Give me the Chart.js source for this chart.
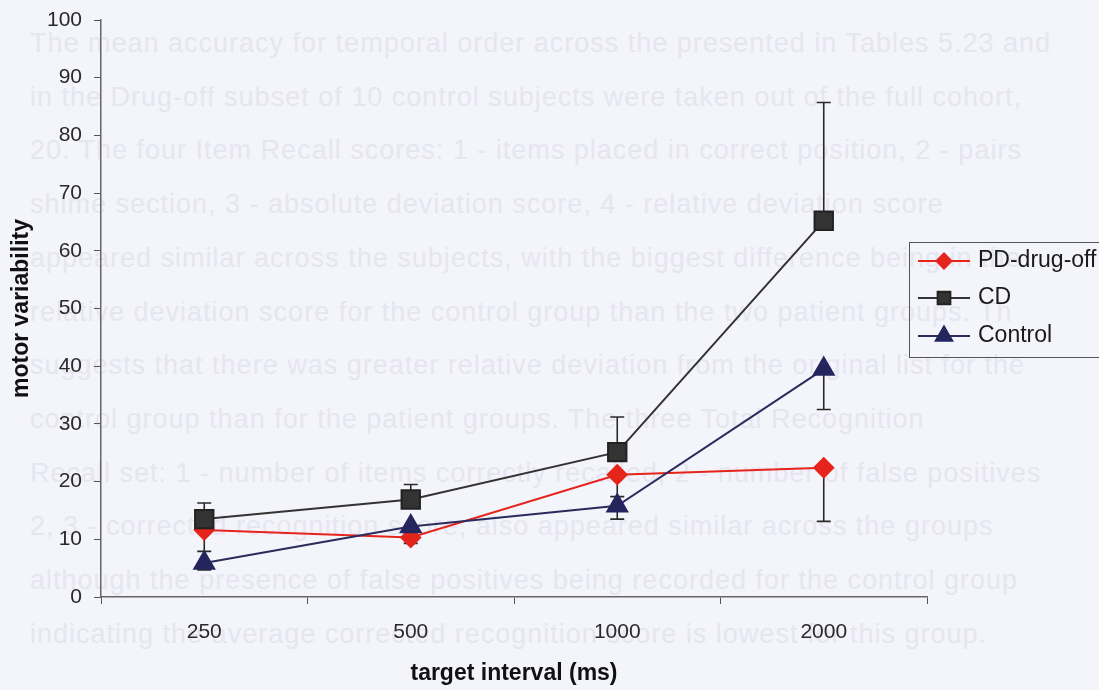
<!DOCTYPE html>
<html lang="en">
<head>
    <title>Motor variability</title>
    <meta charset="UTF-8">
    <script src="https://cdn.jsdelivr.net/npm/chart.js@4/dist/chart.umd.min.js"></script>
    <style>
        body {margin:0;padding:0;background:#f4f4fb;font-family:"Liberation Sans",Arial,sans-serif;}
        #wrap {position:relative;width:1099px;height:690px;overflow:hidden;}
        #bleed {position:absolute;left:0;top:0;width:1099px;height:690px;color:#e6e6f1;font-size:27px;letter-spacing:1px;}
        #bleed div {position:absolute;left:30px;white-space:nowrap;}
        canvas {position:absolute;left:0;top:0;}
    </style>
</head>
<body>
<div id="wrap">
    <div id="bleed"></div>
    <canvas id="motorChart" width="1099" height="690"></canvas>
</div>
<script>
    const categories = ['250', '500', '1000', '2000'];
    const pdDrugOff = [11.6, 10.3, 21.2, 22.4];
    const pdErrMinus = [3.7, 1.0, 3.8, 9.3];
    const cdValues = [13.5, 16.9, 25.1, 65.2];
    const cdErrPlus = [2.8, 2.6, 6.1, 20.5];
    const controlValues = [5.9, 12.2, 15.8, 39.5];
    const controlErrMinus = [1.2, 1.2, 2.3, 7.0];

    // faint text showing through from the scanned page
    const bleedLines = [
        'The mean accuracy for temporal order across the presented in Tables 5.23 and',
        'in the Drug-off subset of 10 control subjects were taken out of the full cohort,',
        '20. The four Item Recall scores: 1 - items placed in correct position, 2 - pairs',
        'shime section, 3 - absolute deviation score, 4 - relative deviation score',
        'appeared similar across the subjects, with the biggest difference being in the',
        'relative deviation score for the control group than the two patient groups. Th',
        'suggests that there was greater relative deviation from the original list for the',
        'control group than for the patient groups. The three Total Recognition',
        'Recall set: 1 - number of items correctly recalled, 2 - number of false positives',
        '2, 3 - corrected recognition score, also appeared similar across the groups',
        'although the presence of false positives being recorded for the control group',
        'indicating the average corrected recognition score is lowest for this group.'
    ];
    const bleed = document.getElementById('bleed');
    bleedLines.forEach((t, i) => {
        let d = document.createElement('div');
        d.textContent = t;
        d.style.top = (44 + i * 53.7 - 16) + 'px';
        bleed.appendChild(d);
    });

    const errorBars = {
        id: 'errorBars',
        beforeDatasetsDraw(chart) {
            const ctx = chart.ctx;
            const y = chart.scales.y;
            ctx.save();
            ctx.strokeStyle = '#2a2a2a';
            ctx.lineWidth = 1.6;
            chart.data.datasets.forEach((ds, i) => {
                const meta = chart.getDatasetMeta(i);
                meta.data.forEach((pt, j) => {
                    const v = ds.data[j];
                    const hi = ds.errPlus ? v + ds.errPlus[j] : v;
                    const lo = ds.errMinus ? v - ds.errMinus[j] : v;
                    const yHi = y.getPixelForValue(hi), yLo = y.getPixelForValue(lo);
                    ctx.beginPath();
                    ctx.moveTo(pt.x, yHi);
                    ctx.lineTo(pt.x, yLo);
                    if (ds.errPlus) { ctx.moveTo(pt.x - 7, yHi); ctx.lineTo(pt.x + 7, yHi); }
                    if (ds.errMinus) { ctx.moveTo(pt.x - 7, yLo); ctx.lineTo(pt.x + 7, yLo); }
                    ctx.stroke();
                });
            });
            ctx.restore();
        }
    };

    const boxLegend = {
        id: 'boxLegend',
        afterDraw(chart) {
            const ctx = chart.ctx;
            ctx.save();
            ctx.strokeStyle = '#555';
            ctx.lineWidth = 1;
            ctx.strokeRect(909.5, 242.5, 200, 115);
            const rows = [261, 298, 336];
            const sizes = {rectRot: 7.5, rect: 9, triangle: 9.5};
            chart.data.datasets.forEach((ds, i) => {
                const yy = rows[i];
                ctx.strokeStyle = ds.borderColor;
                ctx.lineWidth = 2;
                ctx.beginPath();
                ctx.moveTo(918, yy);
                ctx.lineTo(970, yy);
                ctx.stroke();
                ctx.fillStyle = ds.pointBackgroundColor;
                ctx.strokeStyle = ds.pointBorderColor;
                Chart.helpers.drawPoint(ctx, {pointStyle: ds.pointStyle, radius: sizes[ds.pointStyle], rotation: 0, borderWidth: 1}, 944, yy);
                ctx.fillStyle = '#1a1a1a';
                ctx.font = '23px "Liberation Sans", Arial, sans-serif';
                ctx.textBaseline = 'middle';
                ctx.fillText(ds.label, 978, yy);
            });
            ctx.restore();
        }
    };

    let ctx = document.getElementById('motorChart');
    let motorChart = new Chart(ctx, {
        type: 'line',
        data: {
            labels: categories,
            datasets: [{
                label: 'PD-drug-off',
                data: pdDrugOff,
                errMinus: pdErrMinus,
                borderColor: '#e5241c',
                pointBackgroundColor: '#e5241c',
                pointBorderColor: '#e5241c',
                pointStyle: 'rectRot',
                pointRadius: 9.5,
                borderWidth: 2,
                order: 3
            }, {
                label: 'CD',
                data: cdValues,
                errPlus: cdErrPlus,
                borderColor: '#333333',
                pointBackgroundColor: '#333333',
                pointBorderColor: '#222222',
                pointStyle: 'rect',
                pointRadius: 13,
                borderWidth: 2,
                order: 2
            }, {
                label: 'Control',
                data: controlValues,
                errMinus: controlErrMinus,
                borderColor: '#2b2b5c',
                pointBackgroundColor: '#25255e',
                pointBorderColor: '#25255e',
                pointStyle: 'triangle',
                pointRadius: 11.5,
                borderWidth: 2,
                order: 1
            }]
        },
        options: {
            responsive: false,
            animation: false,
            layout: {padding: {top: 20, right: 172, left: 0, bottom: 0}},
            plugins: {
                legend: {display: false},
                tooltip: {enabled: false}
            },
            scales: {
                x: {
                    offset: true,
                    afterFit: (s) => { s.height = 93; s.paddingLeft = 0; s.paddingRight = 0; },
                    grid: {offset: true, drawOnChartArea: false, drawTicks: true, tickLength: 7, color: '#555'},
                    border: {display: true, color: '#666', width: 1.5},
                    ticks: {color: '#2a2a2a', font: {size: 21, family: '"Liberation Sans", Arial'}, padding: 16},
                    title: {display: true, text: 'target interval (ms)', color: '#111', font: {size: 23, weight: 'bold', family: '"Liberation Sans", Arial'}, padding: {top: 0, bottom: 3}}
                },
                y: {
                    min: 0,
                    max: 100,
                    afterFit: (s) => { s.width = 101; s.paddingTop = 0; s.paddingBottom = 0; },
                    grid: {drawOnChartArea: false, drawTicks: true, tickLength: 7, color: '#555'},
                    border: {display: true, color: '#666', width: 1.5},
                    ticks: {stepSize: 10, color: '#2a2a2a', font: {size: 21, family: '"Liberation Sans", Arial'}, padding: 12},
                    title: {display: true, text: 'motor variability', color: '#111', font: {size: 23, weight: 'bold', family: '"Liberation Sans", Arial'}, padding: {top: 8, bottom: 0}}
                }
            }
        },
        plugins: [errorBars, boxLegend]
    });
</script>
</body>
</html>
